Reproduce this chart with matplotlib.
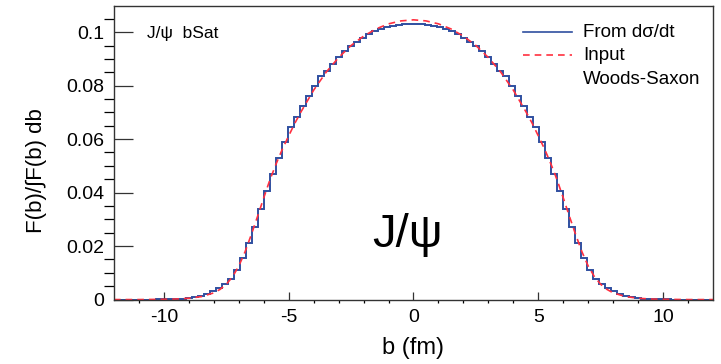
import numpy as np
import matplotlib
matplotlib.use('Agg')
import matplotlib.pyplot as plt

plt.rcParams['font.family'] = ['Liberation Sans', 'DejaVu Sans']

# histogram "From dsigma/dt": 100 bins over b = -12..12 fm
b_edges = np.linspace(-12, 12, 101)
f_left = [0, 0, 0, 0, 0, 0, 0, 0.0001, 0.0001, 0.0002,
          0.0003, 0.0004, 0.0007, 0.0010, 0.0015, 0.0022, 0.0031, 0.0042, 0.0057, 0.0078,
          0.0110, 0.0155, 0.0210, 0.0272, 0.0338, 0.0405, 0.0470, 0.0530, 0.0590, 0.0645,
          0.0681, 0.0722, 0.0760, 0.0797, 0.0835, 0.0856, 0.0882, 0.0906, 0.0928, 0.0947,
          0.0964, 0.0979, 0.0992, 0.1003, 0.1012, 0.1019, 0.1024, 0.1028, 0.1030, 0.1031]
f_right = [0.1031, 0.1030, 0.1028, 0.1024, 0.1019, 0.1012, 0.1003, 0.0992, 0.0979, 0.0964,
           0.0947, 0.0928, 0.0906, 0.0882, 0.0856, 0.0835, 0.0797, 0.0760, 0.0722, 0.0681,
           0.0645, 0.0590, 0.0530, 0.0470, 0.0405, 0.0338, 0.0272, 0.0210, 0.0155, 0.0110,
           0.0078, 0.0057, 0.0042, 0.0031, 0.0022, 0.0015, 0.0010, 0.0007, 0.0004, 0.0003,
           0.0002, 0.0001, 0.0001, 0, 0, 0, 0, 0, 0, 0]
f_hist = f_left + f_right

# input Woods-Saxon curve
b_ws = [-12, -11, -10, -9.5, -9, -8.5, -8, -7.75, -7.5, -7.25, -7, -6.75, -6.5, -6.25,
        -6, -5.75, -5.5, -5.25, -5, -4.75, -4.5, -4, -3.5, -3, -2.5, -2, -1.5, -1, -0.5,
        0, 0.5, 1, 1.5, 2, 2.5, 3, 3.5, 4, 4.5, 4.75, 5, 5.25, 5.5, 5.75, 6,
        6.25, 6.5, 6.75, 7, 7.25, 7.5, 7.75, 8, 8.5, 9, 9.5, 10, 11, 12]
f_ws = [0, 0, 0.0001, 0.0002, 0.0005, 0.0011, 0.0025, 0.0038, 0.0057, 0.0085, 0.0125, 0.0178, 0.0242, 0.0310,
        0.0380, 0.0448, 0.0508, 0.0563, 0.0612, 0.0660, 0.0703, 0.0783, 0.0850, 0.0905, 0.0950, 0.0985, 0.1012, 0.1031, 0.1042,
        0.1046, 0.1042, 0.1031, 0.1012, 0.0985, 0.0950, 0.0905, 0.0850, 0.0783, 0.0703, 0.0660, 0.0612, 0.0563, 0.0508, 0.0448, 0.0380,
        0.0310, 0.0242, 0.0178, 0.0125, 0.0085, 0.0057, 0.0038, 0.0025, 0.0011, 0.0005, 0.0002, 0.0001, 0, 0]

fig = plt.figure(figsize=(7.21, 3.64), dpi=100)
ax = fig.add_axes([0.158, 0.177, 0.831, 0.806])

ax.plot(b_ws, f_ws, color='#ff3040', lw=1.2, ls=(0, (4, 3)))
ax.stairs(f_hist, b_edges, color='#2f4fa0', lw=1.4)

ax.set_xlim(-12, 12)
ax.set_ylim(0, 0.1097)
ax.set_xticks([-10, -5, 0, 5, 10])
ax.set_xticklabels(['-10', '-5', '0', '5', '10'])
ax.set_xticks(np.arange(-11, 12, 1), minor=True)
ax.set_yticks([0, 0.02, 0.04, 0.06, 0.08, 0.1])
ax.set_yticklabels(['0', '0.02', '0.04', '0.06', '0.08', '0.1'])
ax.set_yticks(np.arange(0, 0.11, 0.005), minor=True)
ax.tick_params(axis='both', direction='in', labelsize=14, colors='#333333', labelcolor='black')
ax.tick_params(axis='y', which='major', length=13.5, width=0.9, pad=7)
ax.tick_params(axis='y', which='minor', length=7, width=0.9)
ax.tick_params(axis='x', which='major', length=5.5, width=0.9, pad=7)
ax.tick_params(axis='x', which='minor', length=2.5, width=0.9)
for s in ax.spines.values():
    s.set_color('#333333')
    s.set_linewidth(1.0)

ax.set_xlabel('b (fm)', fontsize=17, labelpad=8)
ax.set_ylabel('F(b)/∫F(b) db', fontsize=16)
ax.yaxis.set_label_coords(-0.112, 0.44)

# labels
ax.text(0.055, 0.908, 'J/ψ  bSat', transform=ax.transAxes, fontsize=12.5, va='center')
ax.text(0.49, 0.22, 'J/ψ', transform=ax.transAxes, fontsize=34, ha='center', va='center')

# legend
ax.plot([0.683, 0.765], [0.911, 0.911], transform=ax.transAxes, color='#2f4fa0', lw=1.2)
ax.plot([0.683, 0.765], [0.833, 0.833], transform=ax.transAxes, color='#ff3040', lw=1.2, ls=(0, (4, 3)))
ax.text(0.783, 0.911, 'From dσ/dt', transform=ax.transAxes, fontsize=13.5, va='center')
ax.text(0.783, 0.833, 'Input', transform=ax.transAxes, fontsize=13.5, va='center')
ax.text(0.783, 0.751, 'Woods-Saxon', transform=ax.transAxes, fontsize=13.5, va='center')

fig.savefig('out.png', dpi=100)
